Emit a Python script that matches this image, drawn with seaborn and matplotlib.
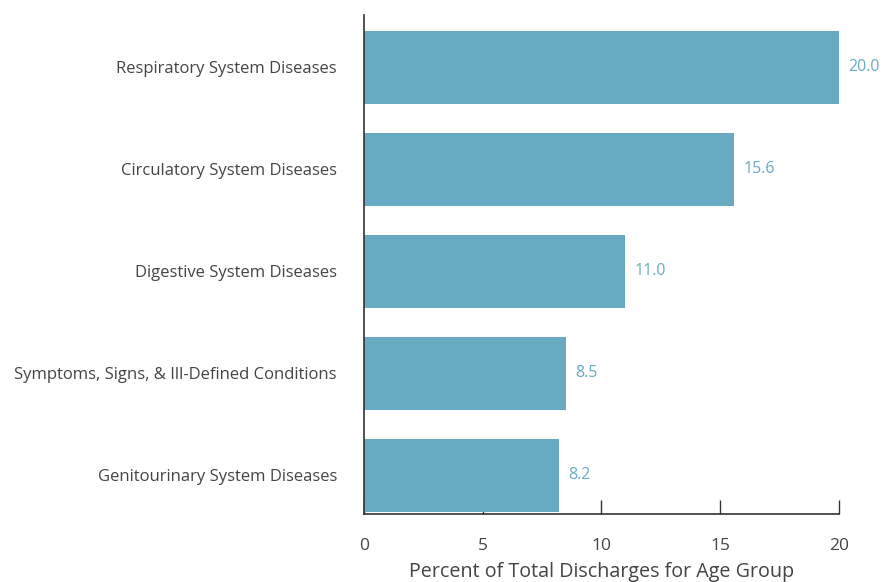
import pandas as pd
import matplotlib
matplotlib.use("Agg")
import matplotlib.pyplot as plt
import seaborn as sns

# Data
categories = [
    "Respiratory System Diseases",
    "Circulatory System Diseases",
    "Digestive System Diseases",
    "Symptoms, Signs, & Ill-Defined Conditions",
    "Genitourinary System Diseases",
]
percents = [20.0, 15.6, 11.0, 8.5, 8.2]
x_ticks = [0, 5, 10, 15, 20]

df = pd.DataFrame({"category": categories, "percent": percents})

sns.set_style("white")
plt.rcParams["font.family"] = ["Open Sans", "DejaVu Sans"]

bar_color = "#69aac3"
text_color = "#444444"

fig = plt.figure(figsize=(8.85, 5.82), dpi=100)
ax = fig.add_axes([0.4113, 0.1168, 0.5367, 0.857])

sns.barplot(data=df, x="percent", y="category", orient="h", color=bar_color,
            saturation=1, width=0.72, linewidth=0, ax=ax)

# value labels in bar colour
for i, v in enumerate(percents):
    ax.text(v + 0.4, i, f"{v:.1f}", va="center", ha="left",
            color=bar_color, fontsize=11.5, clip_on=False)

ax.set_xlim(0, 20)
ax.set_ylim(4.38, -0.51)
ax.set_xticks(x_ticks)
ax.set_xticklabels([str(t) for t in x_ticks])
ax.set_xlabel("Percent of Total Discharges for Age Group", fontsize=14.2,
              color=text_color, labelpad=6)
ax.set_ylabel("")

for s in ["top", "right"]:
    ax.spines[s].set_visible(False)
for s in ["left", "bottom"]:
    ax.spines[s].set_color("#333333")
    ax.spines[s].set_linewidth(1.2)

ax.tick_params(axis="x", bottom=True, direction="in", length=10, width=1,
               color="#333333", labelsize=12.5, labelcolor=text_color, pad=17)
ax.tick_params(axis="y", left=False, length=0, labelsize=12.0,
               labelcolor=text_color, pad=19.5)

fig.savefig("out.png", dpi=100)
